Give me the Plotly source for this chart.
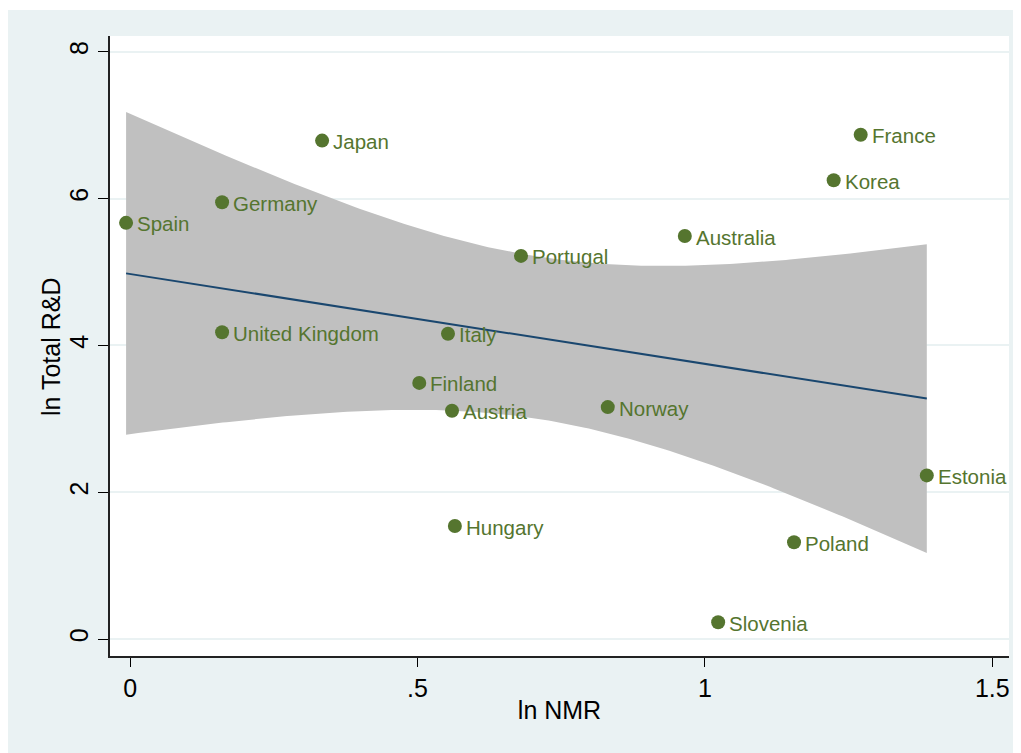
import numpy as np
import plotly.graph_objects as go

# data
countries = ["Spain", "Germany", "Japan", "United Kingdom", "Italy", "Finland",
             "Austria", "Hungary", "Portugal", "Norway", "Australia", "Slovenia",
             "Poland", "Korea", "France", "Estonia"]
ln_nmr = [-0.007, 0.160, 0.334, 0.160, 0.553, 0.503, 0.560, 0.565, 0.680,
          0.831, 0.965, 1.023, 1.155, 1.224, 1.271, 1.386]
ln_rd = [5.67, 5.95, 6.79, 4.18, 4.16, 3.49, 3.11, 1.54, 5.22, 3.16, 5.49,
         0.23, 1.32, 6.25, 6.87, 2.23]

x_ticks = [0, 0.5, 1, 1.5]
x_tick_labels = ["0", ".5", "1", "1.5"]
y_ticks = [0, 2, 4, 6, 8]

GREEN = "#55752f"
NAVY = "#1a476f"
BAND = "#c0c0c0"
BG = "#eaf2f3"
FONT = "Liberation Sans"

# linear fit with 95% CI of the prediction (as Stata lfitci)
x = np.array(ln_nmr)
y = np.array(ln_rd)
n = len(x)
b, a = np.polyfit(x, y, 1)
resid = y - (a + b * x)
s = np.sqrt((resid ** 2).sum() / (n - 2))
sxx = ((x - x.mean()) ** 2).sum()
t_crit = 2.145  # t(0.975, 14)
xs = np.linspace(x.min(), x.max(), 200)
fit = a + b * xs
se = s * np.sqrt(1 / n + (xs - x.mean()) ** 2 / sxx)
upper = fit + t_crit * se
lower = fit - t_crit * se

fig = go.Figure()

fig.add_trace(go.Scatter(
    x=np.concatenate([xs, xs[::-1]]),
    y=np.concatenate([upper, lower[::-1]]),
    fill="toself", fillcolor=BAND, line=dict(width=0),
    mode="lines", hoverinfo="skip", showlegend=False,
))
fig.add_trace(go.Scatter(
    x=xs, y=fit, mode="lines",
    line=dict(color=NAVY, width=2), showlegend=False,
))
fig.add_trace(go.Scatter(
    x=ln_nmr, y=ln_rd, mode="markers",
    marker=dict(color=GREEN, size=14),
    showlegend=False,
))

for name, xv, yv in zip(countries, ln_nmr, ln_rd):
    fig.add_annotation(
        x=xv, y=yv, text=name, showarrow=False,
        xanchor="left", yanchor="middle", xshift=9, yshift=-1,
        font=dict(family=FONT, size=20.5, color=GREEN),
    )

axis_font = dict(family=FONT, size=25, color="black")

# y axis title placed as a rotated annotation
fig.add_annotation(
    xref="paper", yref="paper", x=-59 / 899, y=0.5,
    text="ln Total R&D", textangle=-90, showarrow=False,
    xanchor="center", yanchor="middle", font=axis_font,
)

fig.update_layout(
    width=1013, height=745,
    margin=dict(l=102, r=12, t=28, b=97),
    paper_bgcolor=BG,
    plot_bgcolor="white",
    font=axis_font,
    xaxis=dict(
        range=[-0.035, 1.529],
        tickvals=x_ticks, ticktext=x_tick_labels,
        ticks="outside", ticklen=9, tickcolor="black", tickwidth=1,
        showline=True, linecolor="#222222", linewidth=1.5,
        showgrid=False, zeroline=False,
        title=dict(text="ln NMR", font=axis_font, standoff=1),
        tickfont=axis_font,
    ),
    yaxis=dict(
        range=[-0.23, 8.215],
        tickvals=y_ticks,
        ticks="outside", ticklen=10, tickcolor="black", tickwidth=1,
        tickangle=-90, ticklabelstandoff=0,
        showline=True, linecolor="#222222", linewidth=1.5,
        showgrid=True, gridcolor=BG, gridwidth=2,
        zeroline=False,
        tickfont=axis_font,
    ),
    shapes=[
        # thin white strip along the top edge
        dict(type="rect", xref="paper", yref="paper",
             x0=-0.2, x1=1.1, y0=1 + 26 / 620, y1=1.1,
             fillcolor="white", line=dict(width=0), layer="below"),
    ],
)

fig.write_html("out.html")
